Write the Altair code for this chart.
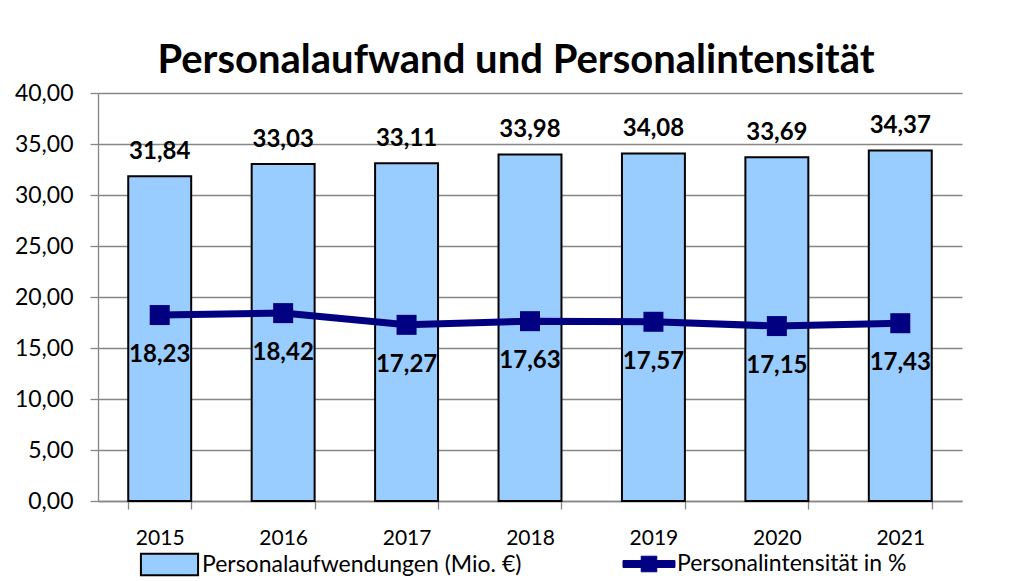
import altair as alt
import pandas as pd

years = ["2015", "2016", "2017", "2018", "2019", "2020", "2021"]
aufwand = [31.84, 33.03, 33.11, 33.98, 34.08, 33.69, 34.37]
intensitaet = [18.23, 18.42, 17.27, 17.63, 17.57, 17.15, 17.43]
y_ticks = [0, 5, 10, 15, 20, 25, 30, 35, 40]
series_bar = "Personalaufwendungen (Mio. €)"
series_line = "Personalintensität in %"
title_text = "Personalaufwand und Personalintensität"


def de(v):
    return f"{v:.2f}".replace(".", ",")


df = pd.DataFrame({
    "year": years,
    "aufwand": aufwand,
    "intens": intensitaet,
    "aufwand_lbl": [de(v) for v in aufwand],
    "intens_lbl": [de(v) for v in intensitaet],
    "s_bar": series_bar,
    "s_line": series_line,
})

FONT = "Lato"
GRID = "#868686"

x_enc = alt.X(
    "year:N", title=None,
    scale=alt.Scale(paddingInner=0.49, paddingOuter=0.245),
    axis=alt.Axis(labelAngle=0, tickBand="extent", labelFontSize=21, labelFont=FONT,
                  labelColor="black", ticks=True, tickSize=8, tickColor=GRID,
                  tickWidth=1.3, domainColor=GRID, domainWidth=1.3, grid=False,
                  labelPadding=18),
)


def y_enc(field):
    return alt.Y(
        f"{field}:Q", title=None,
        scale=alt.Scale(domain=[0, 40], nice=False, zero=True),
        axis=alt.Axis(values=y_ticks,
                      labelExpr="replace(format(datum.value, '.2f'), '.', ',')",
                      labelFontSize=23, labelFont=FONT, labelColor="black",
                      tickSize=8, tickColor=GRID, tickWidth=1.3,
                      domainColor=GRID, domainWidth=1.3,
                      grid=True, gridColor=GRID, gridWidth=1.3, labelPadding=17),
    )


base = alt.Chart(df)

bars = base.mark_bar(stroke="black", strokeWidth=2).encode(
    x=x_enc,
    y=y_enc("aufwand"),
    fill=alt.Fill("s_bar:N", scale=alt.Scale(domain=[series_bar], range=["#99CCFF"]),
                  legend=alt.Legend(title=None, orient="none", legendX=53, legendY=453,
                                    symbolType="M-1.65,-0.62H1.65V0.62H-1.65Z",
                                    symbolSize=1200, symbolStrokeColor="black",
                                    symbolStrokeWidth=2, labelFontSize=23, labelFont=FONT,
                                    labelColor="black", labelOffset=14, labelLimit=0)),
)

line = base.mark_line(strokeWidth=7).encode(
    x=x_enc,
    y=y_enc("intens"),
    stroke=alt.Stroke("s_line:N", scale=alt.Scale(domain=[series_line], range=["#000080"]),
                      legend=alt.Legend(title=None, orient="none", legendX=533, legendY=453,
                                        symbolType="M-1.5,-0.2H1.5V0.2H-1.5Z M-0.45,-0.45H0.45V0.45H-0.45Z",
                                        symbolSize=1200, symbolFillColor="#000080",
                                        symbolStrokeWidth=1, labelFontSize=23,
                                        labelFont=FONT, labelColor="black", labelOffset=10,
                                        labelLimit=0)),
)

points = base.mark_point(shape="square", size=400, filled=True, color="#000080",
                         opacity=1).encode(x=x_enc, y=y_enc("intens"))

bar_labels = base.mark_text(fontSize=24, fontWeight="bold", font=FONT, baseline="alphabetic",
                            dy=-17, color="black").encode(
    x=x_enc, y=y_enc("aufwand"), text="aufwand_lbl:N")

line_labels = base.mark_text(fontSize=24, fontWeight="bold", font=FONT, baseline="alphabetic",
                             dy=47, color="black").encode(
    x=x_enc, y=y_enc("intens"), text="intens_lbl:N")

chart = alt.layer(bars, line, points, bar_labels, line_labels).properties(
    width=864, height=408,
    title=alt.TitleParams(title_text, fontSize=40, fontWeight="bold", font=FONT,
                          color="black", anchor="middle", dx=-14, offset=1),
    padding={"left": 6, "top": 33, "right": 5, "bottom": 2},
).configure_view(stroke=None)

chart.save("out.html", embed_options={"renderer": "svg", "actions": False})
